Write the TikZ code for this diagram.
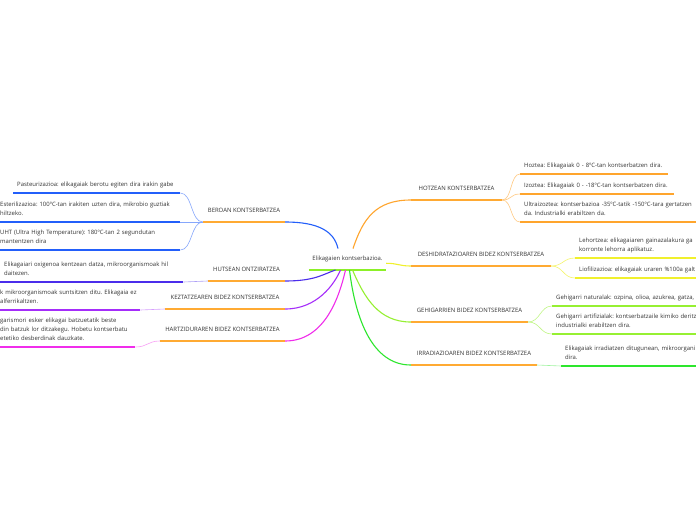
\documentclass[tikz,border=0pt]{standalone}
\usepackage{fontspec}
\setmainfont{Open Sans}
\usepackage{xcolor,tikz}
\frenchspacing
\definecolor{toporange}{RGB}{255,170,51}
\definecolor{beroblue}{RGB}{35,95,250}
\definecolor{hutsviolet}{RGB}{75,45,235}
\definecolor{keztpurple}{RGB}{165,45,250}
\definecolor{hartmagenta}{RGB}{240,45,235}
\definecolor{hotzorange}{RGB}{255,165,45}
\definecolor{deshyellow}{RGB}{240,240,45}
\definecolor{gehilime}{RGB}{150,240,50}
\definecolor{irradgreen}{RGB}{45,230,45}
\definecolor{rootgreen}{RGB}{140,240,40}
\newcommand{\mapfont}{\fontsize{5.95}{9}\selectfont}
\tikzset{leaf/.style={anchor=south west,align=left,inner xsep=4pt,inner ysep=5pt,
 font=\mapfont,text=black!80,execute at end node={\vphantom{gy}}},
 topic/.style={anchor=south,inner xsep=0pt,inner ysep=7.5pt,text depth=1.5pt,
 font=\mapfont,text=black!80},
 under/.style={line width=1.8pt,draw=toporange},
 leafline/.style={line width=1.4pt},
 branch/.style={line width=1.1pt},
 twig/.style={line width=0.6pt}}

\begin{document}
\begin{tikzpicture}[x=1pt,y=-1pt]
\clip (0,0) rectangle (696,520);
\fill[white] (0,0) rectangle (696,520);
\node[topic,minimum width=77] (root) at (347.5,270) {Elikagaien kontserbazioa.};
\node[topic,minimum width=82] (beroan) at (244,222) {BEROAN KONTSERBATZEA};
\node[topic,minimum width=77] (hutsean) at (246.5,281) {HUTSEAN ONTZIRATZEA};
\node[topic,minimum width=120] (keztatze) at (225,309) {KEZTATZEAREN BIDEZ KONTSERBATZEA};
\node[topic,minimum width=125] (hartzid) at (222.5,341) {HARTZIDURAREN BIDEZ KONTSERBATZEA};
\node[topic,minimum width=91] (hotzean) at (456.5,200) {HOTZEAN KONTSERBATZEA};
\node[topic,minimum width=140] (deshid) at (481,266) {DESHIDRATAZIOAREN BIDEZ KONTSERBATZEA};
\node[topic,minimum width=117] (gehigarri) at (469.5,322) {GEHIGARRIEN BIDEZ KONTSERBATZEA};
\node[topic,minimum width=126] (irradiaz) at (474,365) {IRRADIAZIOAREN BIDEZ KONTSERBATZEA};
\foreach \t in {beroan,hutsean,keztatze,hartzid,hotzean,deshid,gehigarri,irradiaz}
 \draw[under] (\t.south west)--(\t.south east);
\draw[under,draw=rootgreen] (root.south west)--(root.south east);

\node[leaf,text width=159] (pasteur) at (13,193) {Pasteurizazioa: elikagaiak berotu egiten dira irakin gabe};
\node[leaf,text width=176] (esteril) at (-4,222) {Esterilizazioa: 100ºC-tan irakiten uzten dira, mikrobio guztiak\\hiltzeko.};
\node[leaf,text width=176] (uht) at (-4,250) {UHT (Ultra High Temperature): 180ºC-tan 2 segundutan\\mantentzen dira};
\node[leaf,text width=175] (oxigeno) at (0,282) {Elikagaiari oxigenoa kentzean datza, mikroorganismoak hil\\daitezen.};
\node[leaf,inner xsep=0pt,text width=140] (kea) at (0,310) {k mikroorganismoak suntsitzen ditu. Elikagaia ez\\alferrikaltzen.};
\node[leaf,text width=131] (mikro) at (-4,347) {garismori esker elikagai batzuetatik beste\\din batzuk lor ditzakegu. Hobetu kontserbatu\\etetiko desberdinak dauzkate.};
\node[leaf,text width=140] (hoztea) at (520,174) {Hoztea: Elikagaiak 0 - 8ºC-tan kontserbatzen dira.};
\node[leaf,text width=146] (izoztea) at (520,194) {Izoztea: Elikagaiak 0 - -18ºC-tan kontserbatzen dira.};
\node[leaf,text width=200] (ultra) at (520,222) {Ultraizoztea: kontserbazioa -35ºC-tatik -150ºC-tara gertatzen\\da. Industrialki erabiltzen da.};
\node[leaf,text width=200] (lehor) at (575,258) {Lehortzea: elikagaiaren gainazalakura ga\\korronte lehorra aplikatuz.};
\node[leaf,text width=200] (liofil) at (575,278) {Liofilizazioa: elikagaiak uraren \%100a galt};
\node[leaf,text width=200] (natural) at (552,306) {Gehigarri naturalak: ozpina, olioa, azukrea, gatza,};
\node[leaf,text width=200] (artifiz) at (552,334) {Gehigarri artifizialak: kontserbatzaile kimiko deritz\\industrialki erabiltzen dira.};
\node[leaf,text width=200] (irrad) at (561,366) {Elikagaiak irradiatzen ditugunean, mikroorgani\\dira.};

\foreach \l in {pasteur,esteril,uht}
 \draw[leafline,beroblue] (\l.south west)--(\l.south east);
\draw[leafline,hutsviolet] (oxigeno.south west)--(oxigeno.south east);
\draw[leafline,keztpurple] (kea.south west)--(kea.south east);
\draw[leafline,hartmagenta] (mikro.south west)--(mikro.south east);
\foreach \l in {hoztea,izoztea,ultra}
 \draw[leafline,hotzorange] (\l.south west)--(\l.south east);
\foreach \l in {lehor,liofil}
 \draw[leafline,deshyellow] (\l.south west)--(\l.south east);
\foreach \l in {natural,artifiz}
 \draw[leafline,gehilime] (\l.south west)--(\l.south east);
\draw[leafline,irradgreen] (irrad.south west)--(irrad.south east);

\draw[branch,beroblue] (beroan.south east) .. controls +(32,0) and +(-4,-18) .. ([xshift=-9.5]root.north);
\draw[branch,hutsviolet] (hutsean.south east) .. controls +(30,0) and +(-12,4) .. ([xshift=-12]root.south);
\draw[branch,keztpurple] (keztatze.south east) .. controls +(32,0) and +(-6,14) .. ([xshift=-7]root.south);
\draw[branch,hartmagenta] (hartzid.south east) .. controls +(40,0) and +(-6,26) .. ([xshift=-2]root.south);
\draw[branch,hotzorange] ([xshift=5.5]root.north) .. controls +(10,-30) and +(-35,0) .. (hotzean.south west);
\draw[branch,deshyellow] ([yshift=-4]root.east) .. controls +(12,0) and +(-12,0) .. (deshid.south west);
\draw[branch,gehilime] ([xshift=5]root.south) .. controls +(12,28) and +(-32,0) .. (gehigarri.south west);
\draw[branch,irradgreen] ([xshift=2]root.south) .. controls +(6,50) and +(-38,0) .. (irradiaz.south west);

\foreach \l in {pasteur,esteril,uht}
 \draw[twig,beroblue!55] (beroan.south west) .. controls +(-12,0) and +(12,0) .. (\l.south east);
\draw[twig,hutsviolet!45] (hutsean.south west) .. controls +(-12,0) and +(12,0) .. (oxigeno.south east);
\draw[twig,keztpurple!45] (keztatze.south west) .. controls +(-12,0) and +(12,0) .. (kea.south east);
\draw[twig,hartmagenta!45] (hartzid.south west) .. controls +(-12,0) and +(12,0) .. (mikro.south east);
\foreach \l in {hoztea,izoztea,ultra}
 \draw[twig,hotzorange!60] (hotzean.south east) .. controls +(10,0) and +(-10,0) .. (\l.south west);
\foreach \l in {lehor,liofil}
 \draw[twig,deshyellow!70] (deshid.south east) .. controls +(12,0) and +(-12,0) .. (\l.south west);
\foreach \l in {natural,artifiz}
 \draw[twig,gehilime!60] (gehigarri.south east) .. controls +(12,0) and +(-12,0) .. (\l.south west);
\draw[twig,irradgreen!45] (irradiaz.south east) .. controls +(12,0) and +(-12,0) .. (irrad.south west);
\end{tikzpicture}
\end{document}
